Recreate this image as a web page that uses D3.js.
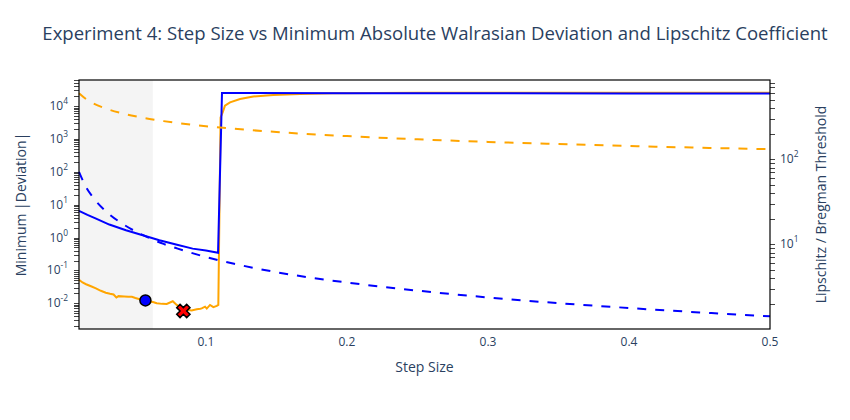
<!DOCTYPE html>
<html lang="en">
<head>
    <meta charset="UTF-8">
    <title>Experiment 4</title>
    <script src="https://d3js.org/d3.v7.min.js"></script>
    <style>
        body { margin: 0; background: #fff; }
        text { font-family: "Open Sans", verdana, arial, sans-serif; fill: #2a3f5f; }
    </style>
</head>
<body>
<script>
    // step sizes and minimum |deviation| (orange, left axis)
    const stepOrange = [0.0100, 0.0125, 0.0150, 0.0185, 0.0220, 0.0255, 0.0290, 0.0320, 0.0345, 0.0365,
        0.0380, 0.0420, 0.0450, 0.0475, 0.0500, 0.0530, 0.0571, 0.0600, 0.0630, 0.0651,
        0.0690, 0.0722, 0.0765, 0.0793, 0.0820, 0.0852, 0.0875, 0.0899, 0.0935, 0.0960,
        0.0970, 0.0994, 0.1006, 0.1029, 0.1053, 0.1077, 0.1088,
        0.1104, 0.1119, 0.1135, 0.1171, 0.1242, 0.1336, 0.1478, 0.1667, 0.1900, 0.2500, 0.5000];
    const devOrange = [0.052, 0.043, 0.038, 0.033, 0.0285, 0.024, 0.021, 0.0195, 0.0185, 0.0150,
        0.0165, 0.0162, 0.0158, 0.0157, 0.0145, 0.0133, 0.0122, 0.0116, 0.0108, 0.0100,
        0.0096, 0.0095, 0.0115, 0.0089, 0.0075, 0.0063, 0.0062, 0.0060, 0.0066, 0.0068,
        0.0070, 0.0079, 0.0069, 0.0089, 0.0076, 0.0083, 0.0089,
        4500, 6400, 10200, 12850, 16300, 19500, 21500, 23000, 24500, 25200, 25500];

    // minimum |deviation| (blue, left axis)
    const stepBlue = [0.0100, 0.0160, 0.0221, 0.0315, 0.0433, 0.0552, 0.0670, 0.0788, 0.0906, 0.1000, 0.1086,
        0.1114, 0.2000, 0.3000, 0.4000, 0.5000];
    const devBlue = [6.5, 4.9, 3.77, 2.48, 1.66, 1.17, 0.83, 0.61, 0.46, 0.40, 0.345,
        24800, 24600, 24300, 24100, 23900];

    // thresholds (dashed)
    const stepThresh = [0.01, 0.015, 0.02, 0.03, 0.04, 0.05, 0.06, 0.07, 0.08, 0.1, 0.12, 0.15,
        0.2, 0.25, 0.3, 0.35, 0.4, 0.45, 0.5];
    const threshOrange = [24300, 16200, 12150, 8100, 6080, 4860, 4050, 3470, 3040, 2430, 2030, 1620,
        1215, 970, 810, 695, 608, 540, 486];   // left axis
    const threshBlue = [71, 47, 35.5, 23.7, 17.8, 14.2, 11.8, 10.1, 8.9, 7.1, 5.9, 4.7,
        3.55, 2.85, 2.37, 2.03, 1.78, 1.58, 1.42];   // right axis

    // stable region and highlighted points
    const stableRegion = [0.01, 0.0623];
    const bestStable = { step: 0.0571, dev: 0.0122 };
    const bestOverall = { step: 0.0840, dev: 0.00585 };

    const xTicks = [0.1, 0.2, 0.3, 0.4, 0.5];
    const leftExps = [-2, -1, 0, 1, 2, 3, 4];
    const rightExps = [1, 2];

    const W = 850, H = 420;
    const L = 79, R = 770, T = 80, B = 329;

    const svg = d3.select("body").append("svg").attr("width", W).attr("height", H);

    const x = d3.scaleLinear().domain([0.01, 0.5]).range([L, R]);
    const yL = d3.scaleLog().domain([Math.pow(10, -2.782), Math.pow(10, 4.791)]).range([B, T]);
    const yR = d3.scaleLog().domain([Math.pow(10, 0.0035), Math.pow(10, 2.933)]).range([B, T]);

    // shaded stable region
    svg.append("rect")
        .attr("x", x(stableRegion[0])).attr("y", T)
        .attr("width", x(stableRegion[1]) - x(stableRegion[0]))
        .attr("height", B - T)
        .attr("fill", "#f4f4f4");

    // minor + major log ticks
    function logTicks(scale, side) {
        const [d0, d1] = scale.domain();
        const lo = Math.floor(Math.log10(d0)), hi = Math.ceil(Math.log10(d1));
        const g = svg.append("g");
        for (let e = lo; e <= hi; e++) {
            for (let m = 1; m <= 9; m++) {
                const v = m * Math.pow(10, e);
                if (v < d0 || v > d1) continue;
                const yy = Math.round(scale(v)) + 0.5;
                const x0 = side === "left" ? L : R;
                const len = side === "left" ? -5 : 5;
                g.append("line").attr("x1", x0).attr("x2", x0 + len)
                    .attr("y1", yy).attr("y2", yy)
                    .attr("stroke", "#444").attr("stroke-width", 1);
            }
        }
    }
    logTicks(yL, "left");
    logTicks(yR, "right");

    function powLabel(xx, yy, exp, anchor) {
        const t = svg.append("text").attr("x", xx).attr("y", yy)
            .attr("text-anchor", anchor).style("font-size", "12px");
        t.append("tspan").text("10");
        t.append("tspan").attr("dy", -6).style("font-size", "8.4px").text(exp);
    }
    leftExps.forEach(e => powLabel(68, yL(Math.pow(10, e)) + 4, e, "end"));
    rightExps.forEach(e => powLabel(780, yR(Math.pow(10, e)) + 4, e, "start"));

    xTicks.forEach(v => {
        svg.append("text").attr("x", x(v)).attr("y", 346)
            .attr("text-anchor", "middle").style("font-size", "12px").text(v);
    });

    const lineL = (xs, ys) => d3.line().x((d, i) => x(xs[i])).y((d, i) => yL(ys[i]))(xs);
    const lineR = (xs, ys) => d3.line().x((d, i) => x(xs[i])).y((d, i) => yR(ys[i]))
        .curve(d3.curveMonotoneX)(xs);
    const lineLs = (xs, ys) => d3.line().x((d, i) => x(xs[i])).y((d, i) => yL(ys[i]))
        .curve(d3.curveMonotoneX)(xs);

    const plot = svg.append("g");
    plot.append("path").attr("d", lineL(stepOrange, devOrange))
        .attr("fill", "none").attr("stroke", "orange").attr("stroke-width", 2);
    plot.append("path").attr("d", lineL(stepBlue, devBlue))
        .attr("fill", "none").attr("stroke", "blue").attr("stroke-width", 2);
    plot.append("path").attr("d", lineLs(stepThresh, threshOrange))
        .attr("fill", "none").attr("stroke", "orange").attr("stroke-width", 2)
        .attr("stroke-dasharray", "9,9");
    plot.append("path").attr("d", lineR(stepThresh, threshBlue))
        .attr("fill", "none").attr("stroke", "blue").attr("stroke-width", 2)
        .attr("stroke-dasharray", "9,9");

    // markers
    plot.append("circle")
        .attr("cx", x(bestStable.step)).attr("cy", yL(bestStable.dev)).attr("r", 5.5)
        .attr("fill", "blue").attr("stroke", "black").attr("stroke-width", 1.5);
    plot.append("path")
        .attr("d", d3.symbol(d3.symbolCross, 110)())
        .attr("transform", `translate(${x(bestOverall.step)},${yL(bestOverall.dev)}) rotate(45)`)
        .attr("fill", "red").attr("stroke", "black").attr("stroke-width", 1.5);

    // frame
    svg.append("rect").attr("x", L).attr("y", T).attr("width", R - L).attr("height", B - T)
        .attr("fill", "none").attr("stroke", "black").attr("stroke-width", 1.2);

    // titles
    const title = svg.append("text").attr("x", 435).attr("y", 40).attr("text-anchor", "middle")
        .style("font-size", "17px")
        .text("Experiment 4: Step Size vs Minimum Absolute Walrasian Deviation and Lipschitz Coefficient");
    // size the title so it spans the same width as in the original
    const tw = title.node().getComputedTextLength();
    title.style("font-size", (17 * 786 / tw).toFixed(2) + "px");

    svg.append("text").attr("x", (L + R) / 2).attr("y", 372).attr("text-anchor", "middle")
        .style("font-size", "14px").text("Step Size");
    svg.append("text").attr("transform", `translate(26,${(T + B) / 2}) rotate(-90)`)
        .attr("text-anchor", "middle").style("font-size", "14px").text("Minimum |Deviation|");
    svg.append("text").attr("transform", `translate(826,${(T + B) / 2}) rotate(-90)`)
        .attr("text-anchor", "middle").style("font-size", "14px").text("Lipschitz / Bregman Threshold");
</script>
</body>
</html>
